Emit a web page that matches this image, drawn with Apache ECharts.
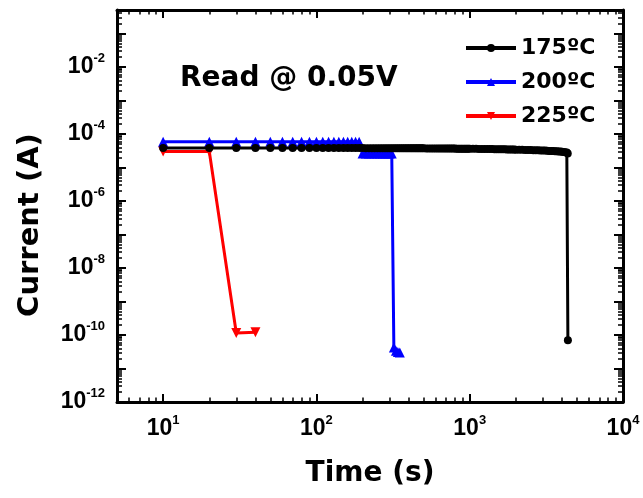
<!DOCTYPE html>
<html><head><meta charset="utf-8">
<script src="https://cdn.jsdelivr.net/npm/echarts@6/dist/echarts.min.js"></script>
<style>html,body{margin:0;padding:0;background:#fff}#c{width:643px;height:498px}</style>
</head><body><div id="c"></div><script>
// ---- data (time in s, current in A) ----
const names = ['175ºC', '200ºC', '225ºC'];
const colors = ['#000000', '#0000ff', '#ff0000'];

const t175 = [10,20,30,40,50,60,70,80,90,100,
  110,120,130,140,150,160,170,180,190,200,
  210,220,230,240,250,260,270,280,290,300,
  310,320,330,340,350,360,370,380,390,400,
  410,420,430,440,450,460,470,480,490,500,
  520,540,560,580,600,620,640,660,680,700,
  720,740,760,780,800,820,840,860,880,900,
  920,940,960,980,1000,
  1050,1100,1150,1200,1250,1300,1350,1400,1450,1500,
  1550,1600,1650,1700,1750,1800,1850,1900,1950,2000,
  2100,2200,2300,2400,2500,2600,2700,2800,2900,3000,
  3100,3200,3300,3400,3500,3600,3700,3800,3900,4000,
  4100,4200,4300,
  4360,4370];
const i175 = [3.8e-5,3.8e-5,3.8e-5,3.8e-5,3.8e-5,3.8e-5,3.8e-5,3.8e-5,3.8e-5,3.8e-5,
  3.8e-5,3.8e-5,3.8e-5,3.78e-5,3.78e-5,3.78e-5,3.78e-5,3.78e-5,3.78e-5,3.78e-5,
  3.76e-5,3.76e-5,3.76e-5,3.76e-5,3.76e-5,3.76e-5,3.76e-5,3.76e-5,3.76e-5,3.76e-5,
  3.74e-5,3.74e-5,3.74e-5,3.74e-5,3.74e-5,3.74e-5,3.74e-5,3.74e-5,3.74e-5,3.74e-5,
  3.72e-5,3.72e-5,3.72e-5,3.72e-5,3.72e-5,3.72e-5,3.72e-5,3.72e-5,3.72e-5,3.72e-5,
  3.7e-5,3.7e-5,3.7e-5,3.7e-5,3.7e-5,3.68e-5,3.68e-5,3.68e-5,3.68e-5,3.68e-5,
  3.66e-5,3.66e-5,3.66e-5,3.66e-5,3.66e-5,3.64e-5,3.64e-5,3.64e-5,3.64e-5,3.64e-5,
  3.62e-5,3.62e-5,3.62e-5,3.62e-5,3.62e-5,
  3.6e-5,3.6e-5,3.58e-5,3.58e-5,3.56e-5,3.56e-5,3.54e-5,3.54e-5,3.52e-5,3.52e-5,
  3.5e-5,3.5e-5,3.48e-5,3.48e-5,3.46e-5,3.46e-5,3.44e-5,3.44e-5,3.42e-5,3.4e-5,
  3.38e-5,3.36e-5,3.34e-5,3.32e-5,3.3e-5,3.28e-5,3.26e-5,3.24e-5,3.22e-5,3.2e-5,
  3.18e-5,3.15e-5,3.12e-5,3.1e-5,3.08e-5,3.05e-5,3.02e-5,3.0e-5,2.97e-5,2.94e-5,
  2.9e-5,2.85e-5,2.8e-5,
  2.6e-5,7e-11];

const t200 = [10,20,30,40,50,60,70,80,90,100,110,120,130,140,150,160,170,180,190,
  200,210,220,230,240,250,260,270,280,290,300,310,
  320,330,340,350];
const i200 = [5.8e-5,5.8e-5,5.8e-5,5.8e-5,5.8e-5,5.8e-5,5.8e-5,5.8e-5,5.8e-5,5.8e-5,5.8e-5,5.8e-5,5.8e-5,5.8e-5,5.8e-5,5.8e-5,5.8e-5,5.8e-5,5.8e-5,
  2.6e-5,2.6e-5,2.6e-5,2.6e-5,2.6e-5,2.6e-5,2.6e-5,2.6e-5,2.6e-5,2.6e-5,2.6e-5,2.6e-5,
  4.2e-11,3.4e-11,3.1e-11,3.0e-11];

const t225 = [10,20,30,40];
const i225 = [3.0e-5,3.0e-5,1.15e-10,1.2e-10];

// ---- axis ticks / labels ----
const xMajor = [10,100,1000,10000];
const xMinor = [6,7,8,9,20,30,40,50,60,70,80,90,200,300,400,500,600,700,800,900,2000,3000,4000,5000,6000,7000,8000,9000];
const yMajorExp = [-12,-11,-10,-9,-8,-7,-6,-5,-4,-3,-2,-1];
const yLabelExp = [-12,-10,-8,-6,-4,-2];
const minorMult = [2,3,4,5,6,7,8,9];

const yMajor = yMajorExp.map(e => Math.pow(10, e));
const yLabels = yLabelExp.map(e => Math.pow(10, e));
const yMinor = [];
yMajorExp.forEach(e => minorMult.forEach(m => { const v = m * Math.pow(10, e); if (v <= 0.5) yMinor.push(v); }));

const FONT_NUM = '"Liberation Sans", Arial, sans-serif';
const FONT_TXT = '"DejaVu Sans", sans-serif';

function expLabel(v) {
  const e = Math.round(Math.log10(v));
  return '{b|10}{s|' + e + '}';
}
const rich = {
  b: {fontFamily: FONT_NUM, fontWeight: 'bold', fontSize: 23, lineHeight: 30, color: '#000'},
  s: {fontFamily: FONT_NUM, fontWeight: 'bold', fontSize: 13, lineHeight: 13, verticalAlign: 'top', color: '#000'}
};
const lineBlack = {color: '#000', width: 3};

function xAx(pos, major, withLabel) {
  const a = {
    type: 'log', min: 5, max: 10000, position: pos,
    axisLine: {show: major, onZero: false, lineStyle: lineBlack},
    axisTick: {show: true, inside: true, length: major ? 8 : 4.5, customValues: major ? xMajor : xMinor,
      lineStyle: {color: '#000', width: major ? 2 : 1.5}},
    axisLabel: withLabel ? {show: true, customValues: xMajor, formatter: expLabel, rich: rich, margin: 12} : {show: false},
    splitLine: {show: false}, minorTick: {show: false}, minorSplitLine: {show: false}
  };
  if (withLabel) {
    a.name = 'Time (s)'; a.nameLocation = 'middle'; a.nameGap = 58; a.nameMoveOverlap = false;
    a.nameTextStyle = {fontFamily: FONT_TXT, fontWeight: 'bold', fontSize: 28, color: '#000'};
  }
  return a;
}
function yAx(pos, major, withLabel) {
  const a = {
    type: 'log', min: 1e-12, max: 0.5, position: pos,
    axisLine: {show: major, onZero: false, lineStyle: lineBlack},
    axisTick: {show: true, inside: true, length: major ? 9 : 5, customValues: major ? yMajor : yMinor,
      lineStyle: {color: '#000', width: major ? 2 : 1.5}},
    axisLabel: withLabel ? {show: true, customValues: yLabels, formatter: expLabel, rich: rich, margin: 12} : {show: false},
    splitLine: {show: false}, minorTick: {show: false}, minorSplitLine: {show: false}
  };
  if (withLabel) {
    a.name = 'Current (A)'; a.nameLocation = 'middle'; a.nameGap = 72; a.nameMoveOverlap = false;
    a.nameTextStyle = {fontFamily: FONT_TXT, fontWeight: 'bold', fontSize: 29, color: '#000', padding: [0, 38, 0, 0]};
  }
  return a;
}

function mkSeries(i, t, v, symbol, size, rot, z) {
  return {
    name: names[i], type: 'line', xAxisIndex: 0, yAxisIndex: 0, z: z,
    data: t.map((x, k) => [x, v[k]]),
    symbol: symbol, symbolSize: size, symbolRotate: rot,
    showAllSymbol: true,
    itemStyle: {color: colors[i]},
    lineStyle: {color: colors[i], width: 3},
    emphasis: {disabled: true}
  };
}

const chart = echarts.init(document.getElementById('c'), null, {renderer: 'canvas'});
chart.setOption({
  animation: false,
  backgroundColor: '#fff',
  grid: {left: 117, right: 20, top: 10, bottom: 96, containLabel: false, outerBoundsMode: 'none'},
  title: {text: 'Read @ 0.05V', left: 180, top: 65, padding: 0,
    textStyle: {fontFamily: FONT_TXT, fontWeight: 'bold', fontSize: 28, color: '#000'}},
  legend: {
    data: names, orient: 'vertical', left: 459, top: 31, padding: 5,
    itemWidth: 50, itemHeight: 10, itemGap: 10,
    lineStyle: {width: 4},
    textStyle: {fontFamily: FONT_TXT, fontWeight: 'bold', fontSize: 22, lineHeight: 24, color: '#000'}
  },
  xAxis: [xAx('bottom', true, true), xAx('bottom', false, false), xAx('top', true, false), xAx('top', false, false)],
  yAxis: [yAx('left', true, true), yAx('left', false, false), yAx('right', true, false), yAx('right', false, false)],
  series: [
    mkSeries(0, t175, i175, 'circle', 8, 0, 5),
    mkSeries(1, t200, i200, 'triangle', 10, 0, 4),
    mkSeries(2, t225, i225, 'triangle', 10, 180, 3)
  ]
});
</script></body></html>
